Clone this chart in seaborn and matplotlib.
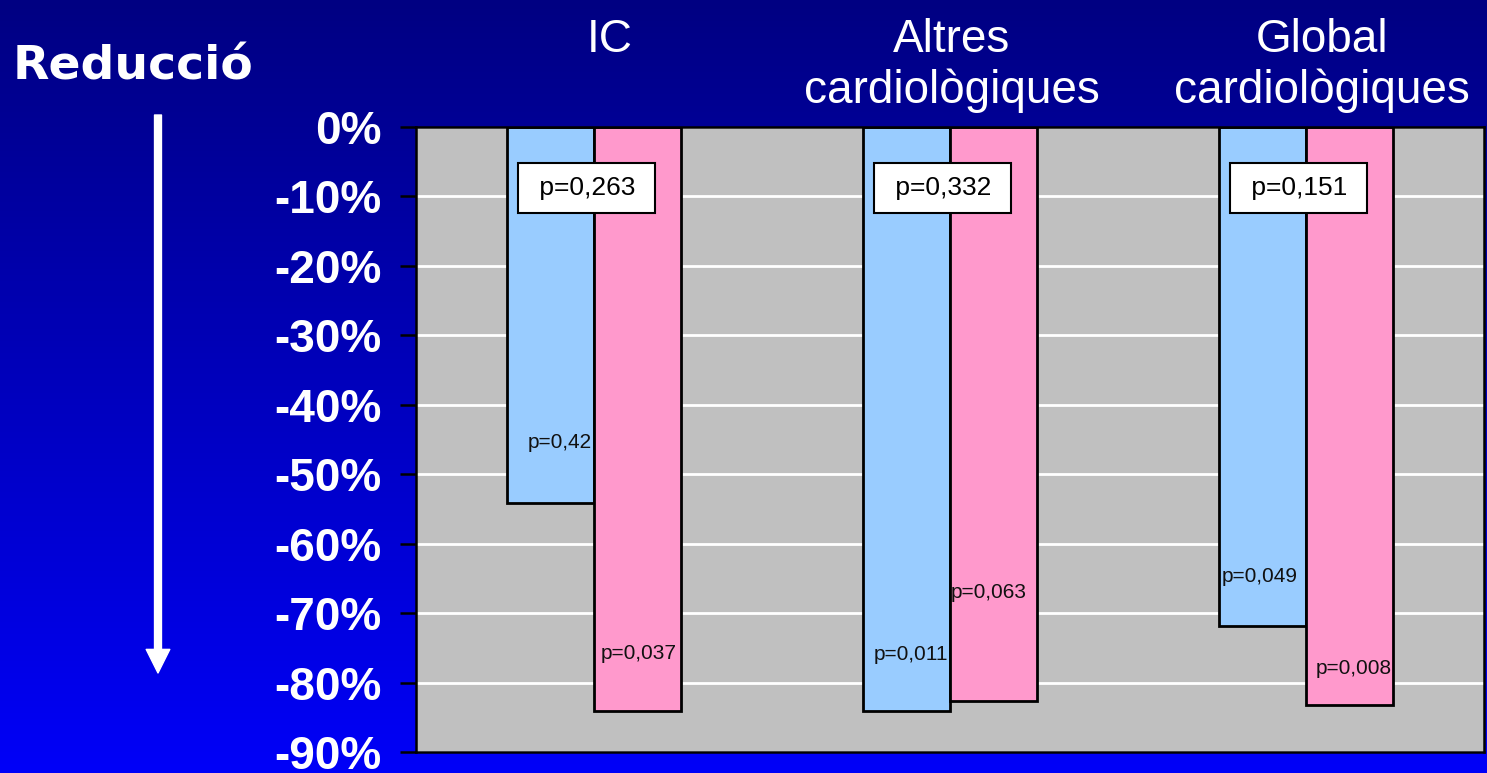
import numpy as np
import pandas as pd
import seaborn as sns
import matplotlib.pyplot as plt
import matplotlib.transforms as mtransforms
from matplotlib.ticker import FuncFormatter
from matplotlib.colors import LinearSegmentedColormap

# data
categories = ["IC\n", "Altres\ncardiològiques", "Global\ncardiològiques"]
series = ["Sèrie 1", "Sèrie 2"]
reduction_s1 = [-54.2, -84.1, -71.8]
reduction_s2 = [-84.1, -82.7, -83.3]
p_between = ["p=0,263", "p=0,332", "p=0,151"]
p_s1 = ["p=0,42", "p=0,011", "p=0,049"]
p_s2 = ["p=0,037", "p=0,063", "p=0,008"]

df = pd.DataFrame({
    "cat": categories * 2,
    "serie": [series[0]] * 3 + [series[1]] * 3,
    "val": reduction_s1 + reduction_s2,
})

sns.set_style("white")
plt.rcParams['font.family'] = ['Liberation Sans', 'DejaVu Sans']

fig = plt.figure(figsize=(14.87, 7.73), dpi=100)

# blue gradient background
bg = fig.add_axes([0, 0, 1, 1], zorder=-1)
grad = np.linspace(0, 1, 256).reshape(-1, 1)
cmap = LinearSegmentedColormap.from_list("bg", ["#000082", "#0000F8"])
bg.imshow(grad, aspect='auto', cmap=cmap, extent=[0, 1, 0, 1], origin='upper')
bg.set_axis_off()

ax = fig.add_axes([416 / 1487, 21 / 773, 1068 / 1487, 625 / 773])
ax.set_facecolor("#C0C0C0")
ax.set_axisbelow(True)
ax.yaxis.grid(True, color="white", lw=2)

sns.barplot(data=df, x="cat", y="val", hue="serie", hue_order=series,
            palette=["#99CCFF", "#FF99CC"], saturation=1, width=0.49, gap=0,
            edgecolor="black", linewidth=2, legend=False, ax=ax)

ax.set_ylim(-90, 0)
ax.set_xlim(-0.5, 2.5)
ax.set_yticks(np.arange(-90, 1, 10))
ax.yaxis.set_major_formatter(FuncFormatter(lambda v, _: f"{int(round(v))}%"))
ax.tick_params(axis='y', left=True, length=11.5, width=1.8, color='black',
               labelsize=33, labelcolor='white', pad=13)
for t in ax.get_yticklabels():
    t.set_fontweight('bold')

ax.xaxis.tick_top()
ax.tick_params(axis='x', length=0, labelsize=33, labelcolor='white', pad=10)
ax.set_xlabel("")
ax.set_ylabel("")
for lab, dx in zip(ax.get_xticklabels(), [16, 2, 16]):
    lab.set_transform(lab.get_transform() +
                      mtransforms.ScaledTranslation(dx / 100, 0, fig.dpi_scale_trans))
for sp in ax.spines.values():
    sp.set_visible(True)
    sp.set_color("black")
    sp.set_linewidth(1.8)

# p-value boxes
for i, txt in enumerate(p_between):
    ax.text(i - 0.02, -8.8, " " + txt + " ", ha='center', va='center', fontsize=19,
            color='black',
            bbox=dict(boxstyle='square,pad=0.5', facecolor='white',
                      edgecolor='black', lw=1.5))

# small p-value labels inside bars
s1_pos = [(-0.006, -45.5), (-0.006, -76.0), (-0.022, -64.8)]
s2_pos = [(0.233, -75.8), (0.216, -67.1), (0.242, -78.0)]
for i in range(3):
    ax.text(i + s1_pos[i][0], s1_pos[i][1], p_s1[i], ha='right', va='center',
            fontsize=15, color='#111111')
    ax.text(i + s2_pos[i][0], s2_pos[i][1], p_s2[i], ha='right', va='center',
            fontsize=15, color='#111111')

# left annotation
fig.text(13 / 1487, 1 - 80 / 773, "Reducció", ha='left', va='baseline',
         fontsize=34, fontweight='bold', color='white', family='DejaVu Sans')
bg.annotate("", xy=(158 / 1487, 1 - 673 / 773), xytext=(158 / 1487, 1 - 115 / 773),
            xycoords='figure fraction', textcoords='figure fraction',
            arrowprops=dict(width=5, headwidth=17, headlength=17,
                            color='white', shrink=0))

fig.savefig("out.png", dpi=100)
